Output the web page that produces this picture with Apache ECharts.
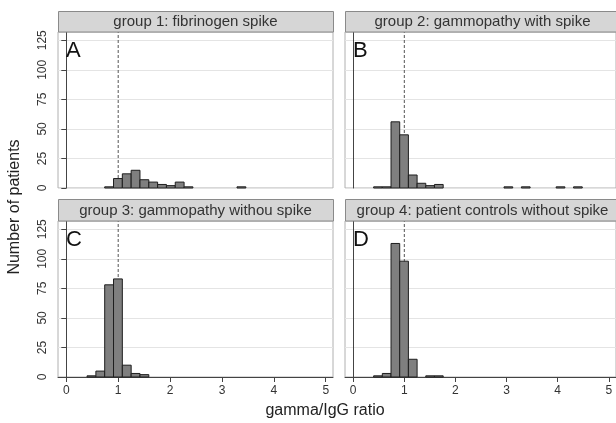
<!DOCTYPE html>
<html><head><meta charset="utf-8">
<script src="https://cdn.jsdelivr.net/npm/echarts@6/dist/echarts.min.js"></script>
<style>html,body{margin:0;padding:0;background:#fff}#c{width:616px;height:423px}</style>
</head><body><div id="c"></div>
<script>
// ---- data ----
const binStart = 0.40;
const binWidth = 0.17;
const group1Counts = [0,0,1,8,12,15,7,5,3,2,5,1,0,0,0,0,0,1];
const group2Counts = [1,1,56,45,11,4,2,3,0,0,0,0,0,0,0,1,0,1,0,0,0,1,0,1];
const group3Counts = [1,5,78,83,10,3,2];
const group4Counts = [1,3,113,98,15,0,1,1];
const panelTitles = ['group 1: fibrinogen spike','group 2: gammopathy with spike','group 3: gammopathy withou spike','group 4: patient controls without spike'];
const panelLetters = ['A','B','C','D'];
const xTicks = [0,1,2,3,4,5];
const yTicks = [0,25,50,75,100,125];
const refLineX = 1;
const xTitle = 'gamma/IgG ratio';
const yTitle = 'Number of patients';
const xMin = -0.16, xMax = 5.14, yMax = 132;

// ---- layout ----
const layout = [
  {left:58, top:32, stripTop:11.5, bottomRow:false, leftCol:true},
  {left:345, top:32, stripTop:11.5, bottomRow:false, leftCol:false},
  {left:58, top:221, stripTop:199.5, bottomRow:true, leftCol:true},
  {left:345, top:221, stripTop:199.5, bottomRow:true, leftCol:false}
];
const W = 275, H = 156;
const FONT = '"Liberation Sans", Arial, Helvetica, sans-serif';
const allCounts = [group1Counts, group2Counts, group3Counts, group4Counts];

function toBins(counts){
  const out = [];
  counts.forEach((c,i)=>{ if(c>0) out.push([binStart+i*binWidth, binStart+(i+1)*binWidth, c]); });
  return out;
}

const grids=[], xAxes=[], yAxes=[], series=[], graphics=[];
layout.forEach((p,i)=>{
  grids.push({left:p.left, top:p.top, width:W, height:H, show:true, borderColor:'#b0b0b0', borderWidth:1});
  xAxes.push({type:'value', gridIndex:i, min:xMin, max:xMax,
    axisLine:{show:p.bottomRow, onZero:false, lineStyle:{color:'#444', width:1}},
    axisTick:{show:p.bottomRow, customValues:xTicks, length:5, lineStyle:{color:'#444'}},
    axisLabel:{show:p.bottomRow, customValues:xTicks, fontSize:12, color:'#333', margin:8, fontFamily:FONT},
    splitLine:{show:false}});
  yAxes.push({type:'value', gridIndex:i, min:0, max:yMax, interval:25,
    axisLine:{show:true, lineStyle:{color:'#444', width:1}},
    axisTick:{show:p.leftCol, customValues:yTicks, length:5, lineStyle:{color:'#444'}},
    axisLabel:{show:p.leftCol, customValues:yTicks, rotate:90, fontSize:12, color:'#333', margin:9, fontFamily:FONT},
    splitLine:{show:true, lineStyle:{color:'#e4e4e4', width:1}}});
  series.push({type:'line', xAxisIndex:i, yAxisIndex:i, data:[[refLineX,0],[refLineX,yMax]],
    symbol:'none', silent:true, z:2, lineStyle:{type:[3,2], width:1, color:'#555'}});
  series.push({type:'custom', xAxisIndex:i, yAxisIndex:i, z:3, data:toBins(allCounts[i]),
    encode:{x:[0,1], y:2},
    renderItem:function(params, api){
      const p0 = api.coord([api.value(0), api.value(2)]);
      const p1 = api.coord([api.value(1), 0]);
      return {type:'rect', shape:{x:p0[0], y:p0[1], width:p1[0]-p0[0], height:p1[1]-p0[1]},
        style:{fill:'#7f7f7f', stroke:'#1e1e1e', lineWidth:1}};
    }});
  const sh = p.top - p.stripTop;
  graphics.push({type:'rect', z:10, shape:{x:p.left+0.5, y:p.stripTop, width:W, height:sh},
    style:{fill:'#d6d6d6', stroke:'#8a8a8a', lineWidth:1}});
  graphics.push({type:'text', z:11, x:p.left+W/2, y:p.stripTop+sh/2+0.5,
    style:{text:panelTitles[i], font:'15px '+FONT, fill:'#333', align:'center', verticalAlign:'middle'}});
  graphics.push({type:'text', z:11, x:p.left+8, y:p.top+19,
    style:{text:panelLetters[i], font:'22px '+FONT, fill:'#111', align:'left', verticalAlign:'middle'}});
});
graphics.push({type:'text', x:325, y:411, style:{text:xTitle, font:'16px '+FONT, fill:'#222', align:'center', verticalAlign:'middle'}});
graphics.push({type:'text', x:15, y:207, rotation:Math.PI/2, style:{text:yTitle, font:'16px '+FONT, fill:'#222', align:'center', verticalAlign:'middle'}});

const chart = echarts.init(document.getElementById('c'), null, {renderer:'canvas'});
chart.setOption({animation:false, backgroundColor:'#fff', grid:grids, xAxis:xAxes, yAxis:yAxes, series:series, graphic:graphics});
</script></body></html>
